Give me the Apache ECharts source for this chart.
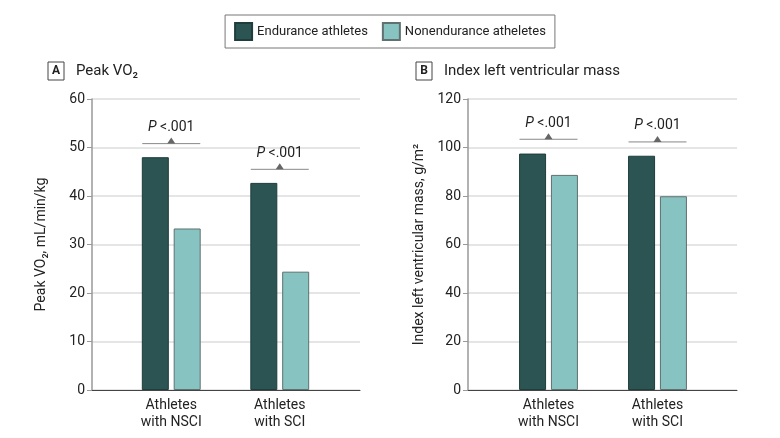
<!DOCTYPE html>
<html>
<head>
<meta charset="utf-8">
<script src="https://cdn.jsdelivr.net/npm/echarts@6/dist/echarts.min.js"></script>
<style>
  html, body { margin: 0; padding: 0; background: #fff; }
  #chart { width: 780px; height: 438px; }
</style>
</head>
<body>
<div id="chart"></div>
<script>
// data
var categories = ['Athletes\nwith NSCI', 'Athletes\nwith SCI']
var seriesNames = ['Endurance athletes', 'Nonendurance atheletes']

var vo2Endurance = [48.0, 42.7]
var vo2Nonendurance = [33.3, 24.4]
var vo2PLine = [50.8, 45.5]

var lvmEndurance = [97.5, 96.6]
var lvmNonendurance = [88.7, 79.9]
var lvmPLine = [103.4, 102.3]

var pLabel = '{i|P} <.001'

var FONT = 'Roboto, sans-serif'
var DARK = '#2b5453'
var LIGHT = '#86c3c1'

var chart = echarts.init(document.getElementById('chart'))

function outerX(grid) {
  return {
    type: 'category',
    gridIndex: grid,
    data: [''],
    axisLine: { show: true, lineStyle: { color: '#444', width: 1 } },
    axisTick: { show: false },
    axisLabel: { show: false }
  }
}

function innerX(grid) {
  return {
    type: 'category',
    gridIndex: grid,
    data: categories,
    axisLine: { show: false },
    axisTick: { show: false },
    axisLabel: {
      color: '#222',
      fontSize: 14,
      lineHeight: 17,
      margin: 7,
      fontFamily: FONT
    }
  }
}

function outerY(grid, max, interval, name, gap) {
  return {
    type: 'value',
    gridIndex: grid,
    min: 0,
    max: max,
    interval: interval,
    name: name,
    nameLocation: 'middle',
    nameGap: gap,
    nameTextStyle: { color: '#222', fontSize: 14, fontFamily: FONT },
    axisLine: { show: true, lineStyle: { color: '#999', width: 1.5 } },
    axisTick: { show: true, length: 5, lineStyle: { color: '#999' } },
    axisLabel: { color: '#222', fontSize: 14, margin: 7, fontFamily: FONT },
    splitLine: { show: true, lineStyle: { color: '#dcdcdc', width: 1.5 } }
  }
}

function innerY(grid, max) {
  return { type: 'value', gridIndex: grid, min: 0, max: max, show: false }
}

function barSeries(name, data, axis, color, border) {
  return {
    name: name,
    type: 'bar',
    xAxisIndex: axis,
    yAxisIndex: axis,
    data: data,
    barWidth: 27,
    barGap: '18%',
    itemStyle: { color: color, borderColor: border, borderWidth: 1 }
  }
}

function pSeries(data, axis) {
  return {
    type: 'custom',
    xAxisIndex: axis,
    yAxisIndex: axis,
    silent: true,
    data: data.map(function (v, i) { return [i, v] }),
    renderItem: function (params, api) {
      var c = api.coord([api.value(0), api.value(1)])
      return {
        type: 'group',
        children: [
          {
            type: 'line',
            shape: { x1: c[0] - 29, y1: c[1], x2: c[0] + 29, y2: c[1] },
            style: { stroke: '#888', lineWidth: 1 }
          },
          {
            type: 'polygon',
            shape: { points: [[c[0] - 4, c[1]], [c[0] + 4, c[1]], [c[0], c[1] - 6]] },
            style: { fill: '#666' }
          },
          {
            type: 'text',
            x: c[0],
            y: c[1] - 16,
            style: {
              text: pLabel,
              align: 'center',
              verticalAlign: 'middle',
              fill: '#222',
              fontSize: 14,
              fontFamily: FONT,
              rich: { i: { fontStyle: 'italic', fontSize: 14, fontFamily: FONT, fill: '#222' } }
            }
          }
        ]
      }
    }
  }
}

function panelTitle(letter, x, title) {
  return [
    {
      type: 'rect',
      shape: { x: x, y: 62, width: 16, height: 18 },
      style: { fill: '#fff', stroke: '#444', lineWidth: 1 }
    },
    {
      type: 'text',
      x: x + 8,
      y: 71,
      style: {
        text: letter, align: 'center', verticalAlign: 'middle',
        fontSize: 12, fontWeight: 'bold', fill: '#222', fontFamily: FONT
      }
    },
    {
      type: 'text',
      x: x + 28,
      y: 71,
      style: {
        text: title, align: 'left', verticalAlign: 'middle',
        fontSize: 15, fill: '#222', fontFamily: FONT
      }
    }
  ]
}

chart.setOption({
  animation: false,
  textStyle: { fontFamily: FONT },
  legend: {
    top: 15,
    left: 'center',
    data: seriesNames,
    icon: 'rect',
    itemWidth: 17,
    itemHeight: 17,
    itemGap: 14,
    padding: [7, 9],
    borderColor: '#777',
    borderWidth: 1,
    textStyle: { color: '#222', fontSize: 13, fontFamily: FONT }
  },
  graphic: panelTitle('A', 48, 'Peak VO₂').concat(panelTitle('B', 416, 'Index left ventricular mass')),
  grid: [
    { left: 92, right: 420, top: 99, bottom: 48 },
    { left: 117, right: 446, top: 99, bottom: 48 },
    { left: 468, right: 43, top: 99, bottom: 48 },
    { left: 494, right: 68, top: 99, bottom: 48 }
  ],
  xAxis: [outerX(0), innerX(1), outerX(2), innerX(3)],
  yAxis: [
    outerY(0, 60, 10, 'Peak VO₂, mL/min/kg', 44),
    innerY(1, 60),
    outerY(2, 120, 20, 'Index left ventricular mass, g/m²', 42),
    innerY(3, 120)
  ],
  series: [
    barSeries(seriesNames[0], vo2Endurance, 1, DARK, '#1f3d3c'),
    barSeries(seriesNames[1], vo2Nonendurance, 1, LIGHT, '#5f7170'),
    pSeries(vo2PLine, 1),
    barSeries(seriesNames[0], lvmEndurance, 3, DARK, '#1f3d3c'),
    barSeries(seriesNames[1], lvmNonendurance, 3, LIGHT, '#5f7170'),
    pSeries(lvmPLine, 3)
  ]
})
</script>
</body>
</html>
